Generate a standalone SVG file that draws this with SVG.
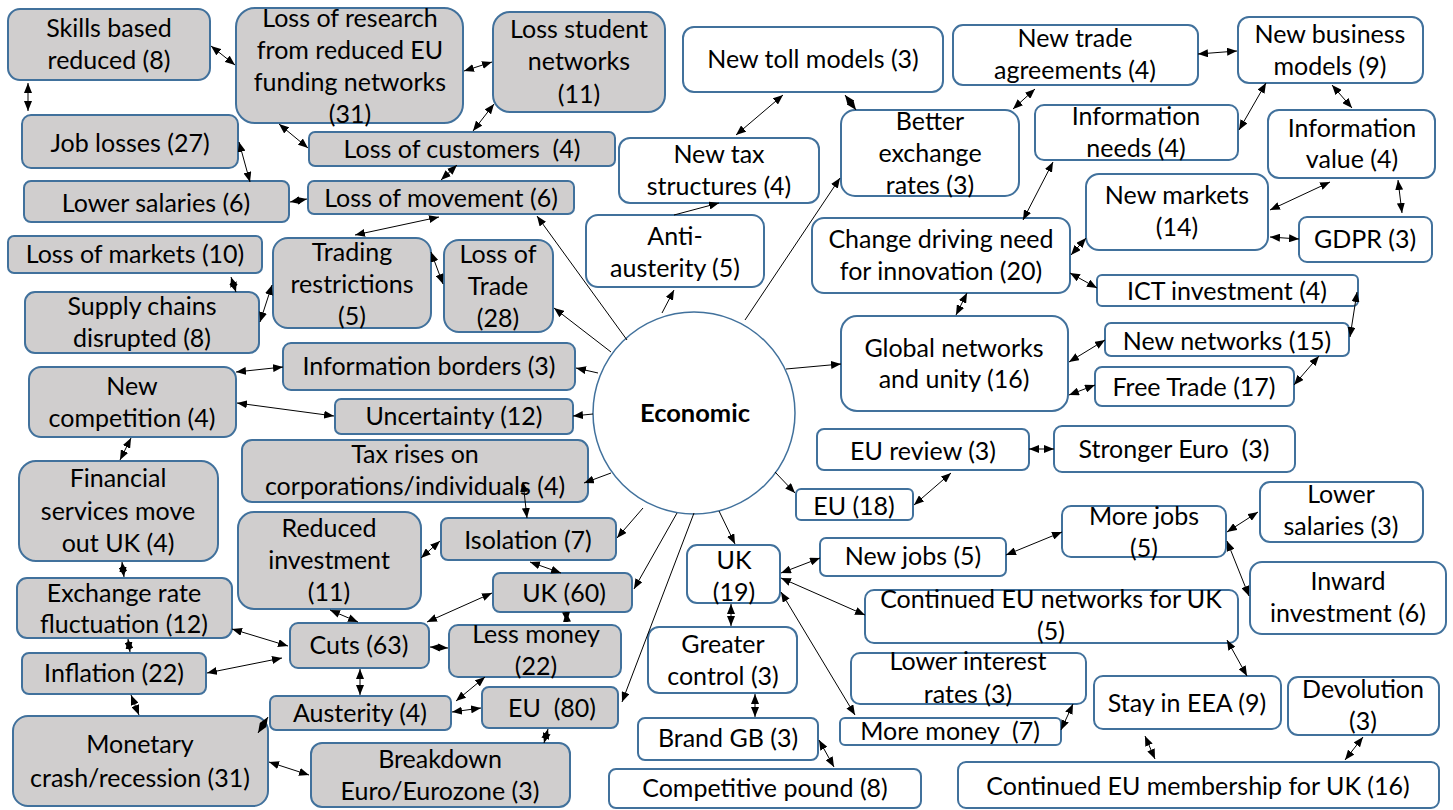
<svg xmlns="http://www.w3.org/2000/svg" width="1453" height="810" viewBox="0 0 1453 810">
<style>
.g rect{fill:#D0CECE;stroke:#41719C;stroke-width:2}
.w rect{fill:#FFFFFF;stroke:#41719C;stroke-width:2}
text{font-family:Lato,"Liberation Sans",sans-serif;font-size:25px;fill:#000;text-anchor:middle}
.hub text{font-weight:bold;font-size:25.5px}
#connectors line{stroke:#000;stroke-width:1;fill:none}
#connectors .s{marker-end:url(#ah)}
#connectors .d{marker-start:url(#ah);marker-end:url(#ah)}
</style>
<defs>
<marker id="ah" viewBox="0 0 10 8" refX="10" refY="4" markerWidth="10" markerHeight="8" markerUnits="userSpaceOnUse" orient="auto-start-reverse">
<path d="M0,0 L10,4 L0,8 z" fill="#000"/>
</marker>
</defs>
<rect width="1453" height="810" fill="#fff"/>

<g id="hub" class="hub">
<circle cx="694" cy="413" r="101" fill="#fff" stroke="#41719C" stroke-width="1.5"/>
<text x="695" y="422">Economic</text>
</g>

<g id="n1" class="g"><rect x="8" y="9" width="202" height="71" rx="12"/><text x="109" y="37">Skills based</text><text x="109" y="69">reduced (8)</text></g>
<g id="n2" class="g"><rect x="236" y="8" width="227" height="115" rx="19"/><text x="350" y="27">Loss of research</text><text x="350" y="59">from reduced EU</text><text x="350" y="91">funding networks</text><text x="350" y="123">(31)</text></g>
<g id="n3" class="g"><rect x="493" y="12" width="172" height="100" rx="17"/><text x="579" y="38">Loss student</text><text x="579" y="70">networks</text><text x="579" y="103">(11)</text></g>
<g id="n4" class="g"><rect x="309" y="132" width="306" height="34" rx="6"/><text x="462" y="158" xml:space="preserve">Loss of customers  (4)</text></g>
<g id="n5" class="g"><rect x="308" y="181" width="266" height="33" rx="6"/><text x="441" y="207">Loss of movement (6)</text></g>
<g id="n6" class="g"><rect x="22" y="115" width="216" height="53" rx="9"/><text x="130" y="152">Job losses (27)</text></g>
<g id="n7" class="g"><rect x="24" y="181" width="265" height="41" rx="7"/><text x="156" y="212">Lower salaries (6)</text></g>
<g id="n8" class="g"><rect x="8" y="236" width="254" height="37" rx="6"/><text x="135" y="263">Loss of markets (10)</text></g>
<g id="n9" class="g"><rect x="273" y="238" width="158" height="90" rx="15"/><text x="352" y="261">Trading</text><text x="352" y="293">restrictions</text><text x="352" y="325">(5)</text></g>
<g id="n10" class="g"><rect x="444" y="240" width="109" height="92" rx="15"/><text x="498" y="263">Loss of</text><text x="498" y="295">Trade</text><text x="498" y="327">(28)</text></g>
<g id="n11" class="g"><rect x="25" y="292" width="234" height="61" rx="10"/><text x="142" y="315">Supply chains</text><text x="142" y="347">disrupted (8)</text></g>
<g id="n12" class="g"><rect x="283" y="343" width="292" height="47" rx="8"/><text x="429" y="375">Information borders (3)</text></g>
<g id="n13" class="g"><rect x="29" y="367" width="207" height="70" rx="12"/><text x="132" y="395">New</text><text x="132" y="427">competition (4)</text></g>
<g id="n14" class="g"><rect x="335" y="399" width="238" height="35" rx="6"/><text x="454" y="425">Uncertainty (12)</text></g>
<g id="n15" class="g"><rect x="242" y="440" width="346" height="62" rx="10"/><text x="415" y="463">Tax rises on</text><text x="415" y="495">corporations/individuals (4)</text></g>
<g id="n16" class="g"><rect x="19" y="461" width="199" height="100" rx="17"/><text x="118" y="487">Financial</text><text x="118" y="520">services move</text><text x="118" y="552">out UK (4)</text></g>
<g id="n17" class="g"><rect x="238" y="512" width="183" height="97" rx="16"/><text x="329" y="537">Reduced</text><text x="329" y="569">investment</text><text x="329" y="601">(11)</text></g>
<g id="n18" class="g"><rect x="441" y="518" width="175" height="42" rx="7"/><text x="528" y="549">Isolation (7)</text></g>
<g id="n19" class="g"><rect x="493" y="573" width="139" height="39" rx="7"/><text x="564" y="602">UK (60)</text></g>
<g id="n20" class="g"><rect x="290" y="623" width="139" height="45" rx="8"/><text x="359" y="654">Cuts (63)</text></g>
<g id="n21" class="g"><rect x="449" y="625" width="172" height="52" rx="9"/><text x="536" y="643">Less money</text><text x="536" y="675">(22)</text></g>
<g id="n22" class="g"><rect x="17" y="578" width="215" height="60" rx="10"/><text x="124" y="602">Exchange rate</text><text x="124" y="633">fluctuation (12)</text></g>
<g id="n23" class="g"><rect x="22" y="653" width="184" height="41" rx="7"/><text x="114" y="682">Inflation (22)</text></g>
<g id="n24" class="g"><rect x="270" y="696" width="181" height="34" rx="6"/><text x="360" y="722">Austerity (4)</text></g>
<g id="n25" class="g"><rect x="482" y="687" width="136" height="41" rx="7"/><text x="552" y="717" xml:space="preserve">EU  (80)</text></g>
<g id="n26" class="g"><rect x="13" y="716" width="255" height="90" rx="15"/><text x="140" y="753">Monetary</text><text x="140" y="787">crash/recession (31)</text></g>
<g id="n27" class="g"><rect x="311" y="743" width="259" height="64" rx="11"/><text x="440" y="768">Breakdown</text><text x="440" y="800">Euro/Eurozone (3)</text></g>

<g id="n28" class="w"><rect x="683" y="27" width="260" height="65" rx="11"/><text x="813" y="68">New toll models (3)</text></g>
<g id="n29" class="w"><rect x="953" y="25" width="245" height="60" rx="10"/><text x="1075" y="47">New trade</text><text x="1075" y="79">agreements (4)</text></g>
<g id="n30" class="w"><rect x="1238" y="17" width="185" height="66" rx="11"/><text x="1330" y="43">New business</text><text x="1330" y="75">models (9)</text></g>
<g id="n31" class="w"><rect x="841" y="110" width="178" height="86" rx="14"/><text x="930" y="130">Better</text><text x="930" y="162">exchange</text><text x="930" y="194">rates (3)</text></g>
<g id="n32" class="w"><rect x="1035" y="105" width="203" height="55" rx="9"/><text x="1136" y="125">Information</text><text x="1136" y="157">needs (4)</text></g>
<g id="n33" class="w"><rect x="1268" y="110" width="167" height="68" rx="11"/><text x="1352" y="137">Information</text><text x="1352" y="168">value (4)</text></g>
<g id="n34" class="w"><rect x="619" y="138" width="200" height="65" rx="11"/><text x="719" y="163">New tax</text><text x="719" y="195">structures (4)</text></g>
<g id="n35" class="w"><rect x="586" y="215" width="178" height="72" rx="12"/><text x="675" y="245">Anti-</text><text x="675" y="277">austerity (5)</text></g>
<g id="n36" class="w"><rect x="1086" y="174" width="182" height="76" rx="13"/><text x="1177" y="204">New markets</text><text x="1177" y="236">(14)</text></g>
<g id="n37" class="w"><rect x="1299" y="217" width="133" height="45" rx="8"/><text x="1365" y="248">GDPR (3)</text></g>
<g id="n38" class="w"><rect x="812" y="218" width="258" height="75" rx="12"/><text x="941" y="248">Change driving need</text><text x="941" y="280">for innovation (20)</text></g>
<g id="n39" class="w"><rect x="1097" y="275" width="261" height="31" rx="5"/><text x="1227" y="300">ICT investment (4)</text></g>
<g id="n40" class="w"><rect x="841" y="316" width="227" height="95" rx="16"/><text x="954" y="357">Global networks</text><text x="954" y="388">and unity (16)</text></g>
<g id="n41" class="w"><rect x="1105" y="323" width="244" height="33" rx="6"/><text x="1227" y="350">New networks (15)</text></g>
<g id="n42" class="w"><rect x="1095" y="367" width="199" height="39" rx="7"/><text x="1194" y="396">Free Trade (17)</text></g>
<g id="n43" class="w"><rect x="817" y="429" width="212" height="41" rx="7"/><text x="923" y="460">EU review (3)</text></g>
<g id="n44" class="w"><rect x="1054" y="426" width="241" height="46" rx="8"/><text x="1174" y="458" xml:space="preserve">Stronger Euro  (3)</text></g>
<g id="n45" class="w"><rect x="796" y="489" width="117" height="31" rx="5"/><text x="854" y="515">EU (18)</text></g>
<g id="n46" class="w"><rect x="1260" y="482" width="163" height="60" rx="10"/><text x="1341" y="503">Lower</text><text x="1341" y="535">salaries (3)</text></g>
<g id="n47" class="w"><rect x="1062" y="506" width="164" height="51" rx="9"/><text x="1144" y="525">More jobs</text><text x="1144" y="557">(5)</text></g>
<g id="n48" class="w"><rect x="820" y="538" width="186" height="38" rx="6"/><text x="913" y="565">New jobs (5)</text></g>
<g id="n49" class="w"><rect x="687" y="545" width="93" height="58" rx="10"/><text x="734" y="569">UK</text><text x="734" y="601">(19)</text></g>
<g id="n50" class="w"><rect x="1250" y="562" width="196" height="72" rx="12"/><text x="1348" y="590">Inward</text><text x="1348" y="622">investment (6)</text></g>
<g id="n51" class="w"><rect x="865" y="590" width="373" height="53" rx="9"/><text x="1051" y="608">Continued EU networks for UK</text><text x="1051" y="640">(5)</text></g>
<g id="n52" class="w"><rect x="648" y="627" width="149" height="66" rx="11"/><text x="723" y="653">Greater</text><text x="723" y="685">control (3)</text></g>
<g id="n53" class="w"><rect x="851" y="653" width="235" height="51" rx="9"/><text x="968" y="670">Lower interest</text><text x="968" y="703">rates (3)</text></g>
<g id="n54" class="w"><rect x="840" y="718" width="221" height="27" rx="5"/><text x="950" y="740" xml:space="preserve">More money  (7)</text></g>
<g id="n55" class="w"><rect x="1094" y="676" width="187" height="53" rx="9"/><text x="1187" y="712">Stay in EEA (9)</text></g>
<g id="n56" class="w"><rect x="1288" y="677" width="151" height="58" rx="10"/><text x="1363" y="698">Devolution</text><text x="1363" y="730">(3)</text></g>
<g id="n57" class="w"><rect x="638" y="718" width="180" height="42" rx="7"/><text x="728" y="747">Brand GB (3)</text></g>
<g id="n58" class="w"><rect x="609" y="769" width="312" height="39" rx="7"/><text x="765" y="797">Competitive pound (8)</text></g>
<g id="n59" class="w"><rect x="958" y="762" width="481" height="46" rx="8"/><text x="1198" y="795">Continued EU membership for UK (16)</text></g>

<g id="connectors">
<line class="s" x1="627" y1="340" x2="537" y2="216"/>
<line class="s" x1="611" y1="352" x2="554" y2="308"/>
<line class="s" x1="598" y1="373" x2="576" y2="368"/>
<line class="s" x1="593" y1="414" x2="573" y2="416"/>
<line class="s" x1="611" y1="473" x2="584" y2="483"/>
<line class="s" x1="643" y1="508" x2="617" y2="538"/>
<line class="s" x1="677" y1="513" x2="634" y2="589"/>
<line class="s" x1="694" y1="513" x2="622" y2="702"/>
<line class="s" x1="719" y1="511" x2="735" y2="544"/>
<line class="s" x1="775" y1="472" x2="795" y2="493"/>
<line class="s" x1="786" y1="369" x2="841" y2="364"/>
<line class="s" x1="745" y1="320" x2="840" y2="178"/>
<line class="s" x1="662" y1="313" x2="674" y2="290"/>
<line class="s" x1="674" y1="215" x2="719" y2="203"/>
<line class="d" x1="211" y1="46" x2="235" y2="65"/>
<line class="d" x1="28" y1="83" x2="28" y2="111"/>
<line class="d" x1="279" y1="124" x2="308" y2="148"/>
<line class="d" x1="464" y1="71" x2="492" y2="62"/>
<line class="d" x1="473" y1="131" x2="494" y2="104"/>
<line class="d" x1="441" y1="180" x2="457" y2="165"/>
<line class="d" x1="239" y1="142" x2="250" y2="182"/>
<line class="d" x1="290" y1="202" x2="307" y2="199"/>
<line class="d" x1="231" y1="277" x2="236" y2="292"/>
<line class="d" x1="260" y1="322" x2="272" y2="285"/>
<line class="d" x1="431" y1="252" x2="443" y2="284"/>
<line class="d" x1="355" y1="235" x2="439" y2="217"/>
<line class="d" x1="236" y1="372" x2="283" y2="367"/>
<line class="d" x1="237" y1="403" x2="334" y2="416"/>
<line class="d" x1="131" y1="438" x2="120" y2="460"/>
<line class="d" x1="523" y1="482" x2="527" y2="518"/>
<line class="d" x1="421" y1="558" x2="440" y2="541"/>
<line class="d" x1="530" y1="562" x2="561" y2="573"/>
<line class="d" x1="330" y1="610" x2="358" y2="622"/>
<line class="d" x1="492" y1="593" x2="427" y2="622"/>
<line class="d" x1="566" y1="612" x2="567" y2="622"/>
<line class="d" x1="430" y1="647" x2="448" y2="648"/>
<line class="d" x1="485" y1="677" x2="456" y2="701"/>
<line class="d" x1="452" y1="712" x2="481" y2="708"/>
<line class="d" x1="548" y1="729" x2="544" y2="743"/>
<line class="d" x1="360" y1="669" x2="360" y2="695"/>
<line class="d" x1="232" y1="629" x2="288" y2="646"/>
<line class="d" x1="207" y1="673" x2="282" y2="658"/>
<line class="d" x1="122" y1="562" x2="124" y2="577"/>
<line class="d" x1="128" y1="639" x2="130" y2="652"/>
<line class="d" x1="131" y1="695" x2="139" y2="715"/>
<line class="d" x1="268" y1="717" x2="258" y2="733"/>
<line class="d" x1="269" y1="762" x2="309" y2="775"/>
<line class="d" x1="783" y1="95" x2="736" y2="135"/>
<line class="d" x1="845" y1="95" x2="856" y2="110"/>
<line class="d" x1="1035" y1="89" x2="1013" y2="109"/>
<line class="d" x1="1198" y1="54" x2="1237" y2="51"/>
<line class="d" x1="1239" y1="130" x2="1266" y2="83"/>
<line class="d" x1="1332" y1="85" x2="1352" y2="108"/>
<line class="d" x1="1330" y1="182" x2="1270" y2="210"/>
<line class="d" x1="1398" y1="180" x2="1402" y2="213"/>
<line class="d" x1="1270" y1="237" x2="1299" y2="239"/>
<line class="d" x1="1053" y1="162" x2="1023" y2="220"/>
<line class="d" x1="1086" y1="238" x2="1071" y2="255"/>
<line class="d" x1="1070" y1="273" x2="1097" y2="288"/>
<line class="d" x1="967" y1="293" x2="956" y2="315"/>
<line class="d" x1="1069" y1="362" x2="1105" y2="340"/>
<line class="d" x1="1069" y1="395" x2="1095" y2="385"/>
<line class="d" x1="1357" y1="292" x2="1350" y2="337"/>
<line class="d" x1="1319" y1="356" x2="1294" y2="385"/>
<line class="d" x1="1029" y1="449" x2="1054" y2="449"/>
<line class="d" x1="951" y1="473" x2="914" y2="505"/>
<line class="d" x1="1227" y1="532" x2="1258" y2="512"/>
<line class="d" x1="1006" y1="555" x2="1062" y2="532"/>
<line class="d" x1="1227" y1="541" x2="1249" y2="596"/>
<line class="d" x1="781" y1="573" x2="820" y2="558"/>
<line class="d" x1="781" y1="578" x2="865" y2="615"/>
<line class="d" x1="781" y1="592" x2="855" y2="715"/>
<line class="d" x1="731" y1="604" x2="731" y2="626"/>
<line class="d" x1="755" y1="694" x2="755" y2="717"/>
<line class="d" x1="819" y1="740" x2="834" y2="767"/>
<line class="d" x1="1073" y1="704" x2="1061" y2="730"/>
<line class="d" x1="1227" y1="640" x2="1247" y2="676"/>
<line class="d" x1="1145" y1="736" x2="1155" y2="759"/>
<line class="d" x1="1363" y1="737" x2="1345" y2="760"/>
</g>
</svg>
